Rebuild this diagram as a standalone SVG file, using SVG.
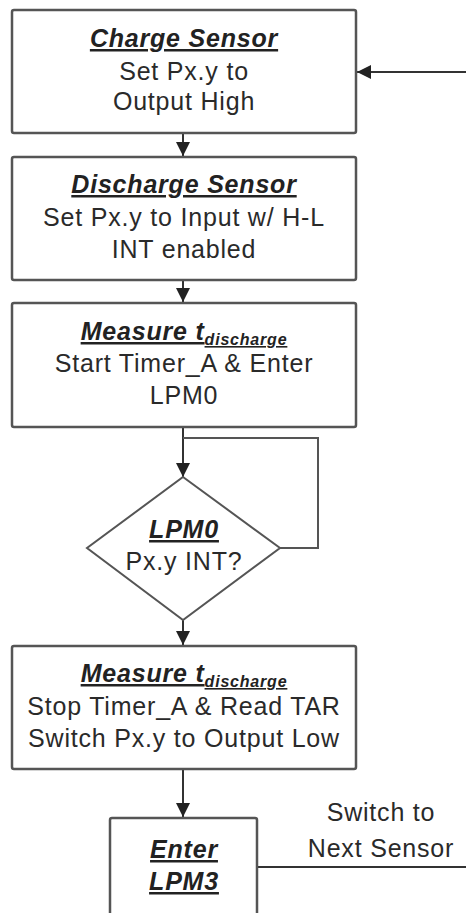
<svg xmlns="http://www.w3.org/2000/svg" width="466" height="913" viewBox="0 0 466 913">
  <style>
    .box { fill: #ffffff; stroke: #555555; stroke-width: 2.5; }
    .dia { fill: #ffffff; stroke: #555555; stroke-width: 2; }
    .wire { fill: none; stroke: #333333; stroke-width: 2; }
    .loop { fill: none; stroke: #555555; stroke-width: 2; }
    text { font-family: "Liberation Sans", Arial, sans-serif; font-size: 25px; fill: #2a2a2a; text-anchor: middle; letter-spacing: 0.8px; }
    .title { font-weight: bold; font-style: italic; text-decoration: underline; fill: #222222; }
    .sub { font-size: 16px; }
  </style>
  <defs>
    <marker id="arrow" viewBox="0 0 14 14" refX="14" refY="7" markerWidth="14" markerHeight="14" markerUnits="userSpaceOnUse" orient="auto">
      <path d="M0,0 L14,7 L0,14 Z" fill="#222222"/>
    </marker>
  </defs>

  <rect width="466" height="913" fill="#ffffff"/>

  <g id="connectors">
    <line class="wire" x1="183" y1="133" x2="183" y2="156" marker-end="url(#arrow)"/>
    <line class="wire" x1="183" y1="280" x2="183" y2="302" marker-end="url(#arrow)"/>
    <line class="wire" x1="183" y1="427" x2="183" y2="477" marker-end="url(#arrow)"/>
    <polyline class="loop" points="183,438 318,438 318,548 280,548"/>
    <line class="wire" x1="183" y1="620" x2="183" y2="645" marker-end="url(#arrow)"/>
    <line class="wire" x1="183" y1="769" x2="183" y2="817" marker-end="url(#arrow)"/>
    <line class="wire" x1="257" y1="867" x2="466" y2="867"/>
    <line class="wire" x1="466" y1="72" x2="357" y2="72" marker-end="url(#arrow)"/>
    <text x="381" y="821">Switch to</text>
    <text x="381" y="857">Next Sensor</text>
  </g>

  <g id="charge-sensor">
    <rect class="box" x="12" y="10" width="344" height="123" rx="2"/>
    <text class="title" x="184" y="47">Charge Sensor</text>
    <text x="184" y="80">Set Px.y to</text>
    <text x="184" y="110">Output High</text>
  </g>

  <g id="discharge-sensor">
    <rect class="box" x="12" y="157" width="344" height="123" rx="2"/>
    <text class="title" x="184" y="193">Discharge Sensor</text>
    <text x="184" y="226">Set Px.y to Input w/ H-L</text>
    <text x="184" y="258">INT enabled</text>
  </g>

  <g id="measure-start">
    <rect class="box" x="12" y="303" width="344" height="124" rx="2"/>
    <text class="title" x="184" y="340">Measure t<tspan class="sub" dy="5">discharge</tspan></text>
    <text x="184" y="372">Start Timer_A &amp; Enter</text>
    <text x="184" y="404">LPM0</text>
  </g>

  <g id="lpm0-decision">
    <polygon class="dia" points="183,477 280,548 183,620 87,548"/>
    <text class="title" x="184" y="538">LPM0</text>
    <text x="184" y="570">Px.y INT?</text>
  </g>

  <g id="measure-stop">
    <rect class="box" x="12" y="646" width="344" height="123" rx="2"/>
    <text class="title" x="184" y="682">Measure t<tspan class="sub" dy="5">discharge</tspan></text>
    <text x="184" y="715">Stop Timer_A &amp; Read TAR</text>
    <text x="184" y="747">Switch Px.y to Output Low</text>
  </g>

  <g id="enter-lpm3">
    <rect class="box" x="110" y="818" width="147" height="120" rx="2"/>
    <text class="title" x="184" y="858">Enter</text>
    <text class="title" x="184" y="890">LPM3</text>
  </g>
</svg>
